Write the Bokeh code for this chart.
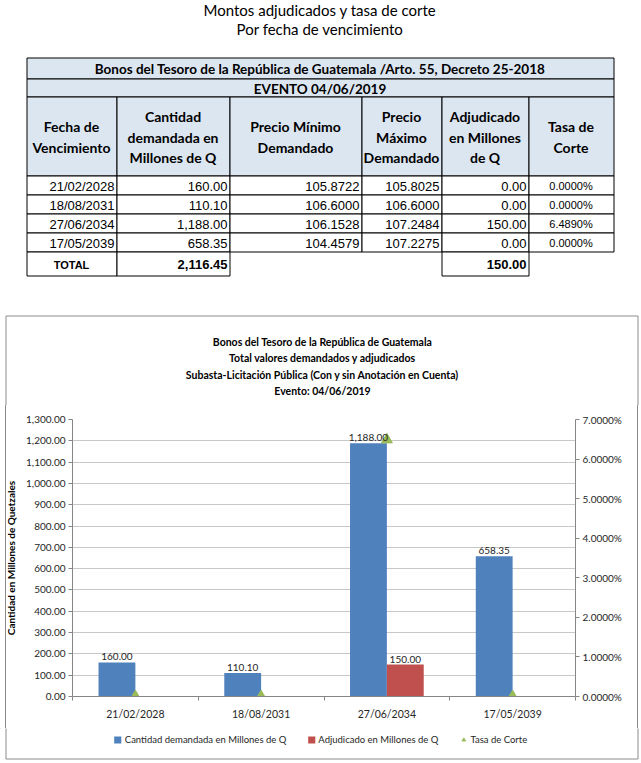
from bokeh.plotting import figure
from bokeh.models import (Range1d, LinearAxis, FixedTicker, NumeralTickFormatter,
                          Legend, LegendItem, ColumnDataSource, Grid)
from bokeh.layouts import column
from bokeh.transform import dodge
from bokeh.embed import file_html
from bokeh.resources import INLINE
from bokeh.core.properties import value

# ---------------- data ----------------
fechas = ["21/02/2028", "18/08/2031", "27/06/2034", "17/05/2039"]
cantidad = [160.00, 110.10, 1188.00, 658.35]
precio_min = [105.8722, 106.6000, 106.1528, 104.4579]
precio_max = [105.8025, 106.6000, 107.2484, 107.2275]
adjudicado = [0.00, 0.00, 150.00, 0.00]
tasa_pct = [0.0000, 0.0000, 6.4890, 0.0000]
total_cantidad = 2116.45
total_adjudicado = 150.00

page_title = ["Montos adjudicados y tasa de corte", "Por fecha de vencimiento"]
table_title = "Bonos del Tesoro de la República de Guatemala /Arto. 55, Decreto 25-2018"
event_label = "EVENTO 04/06/2019"
total_label = "TOTAL"
headers = [["Fecha de", "Vencimiento"],
           ["Cantidad", "demandada en", "Millones de Q"],
           ["Precio Mínimo", "Demandado"],
           ["Precio", "Máximo", "Demandado"],
           ["Adjudicado", "en Millones", "de Q"],
           ["Tasa de", "Corte"]]
chart_title = ["Bonos del Tesoro de la República de Guatemala",
               "Total valores demandados y adjudicados",
               "Subasta-Licitación Pública (Con y sin Anotación en Cuenta)",
               "Evento: 04/06/2019"]
y_label = "Cantidad en Millones de Quetzales"
series_names = ["Cantidad demandada en Millones de Q", "Adjudicado en Millones de Q", "Tasa de Corte"]
left_ticks = [0, 100, 200, 300, 400, 500, 600, 700, 800, 900, 1000, 1100, 1200, 1300]
right_ticks_pct = [0, 1, 2, 3, 4, 5, 6, 7]

# ---------------- styles / layout (page pixel coordinates) ----------------
W = 640
TOP_H = 405          # table + chart titles
CH_H = 323           # chart plot area with axes
LG_H = 34            # legend strip
HDR_FILL = "#dce6f1"
BLUE, RED, GREEN = "#4f81bd", "#c0504d", "#9bbb59"
BORDER = "#8c8c8c"
F_CAL = value("Lato")
F_ARI = value("Liberation Sans")

col_edges = [26, 116, 229, 361, 441, 528, 613]
row_edges = [57, 78, 96, 175, 194, 213, 232, 251, 275]
box_l, box_r, box_t, box_b = 5.5, 637.5, 315.5, 758.5
title_y = [341, 357, 374, 390]

def bare_fig(h, y0):
    f = figure(width=W, height=h, x_range=Range1d(0, W), y_range=Range1d(y0 + h, y0),
               output_backend="svg", toolbar_location=None, min_border=0,
               x_axis_type=None, y_axis_type=None)
    f.outline_line_color = None
    f.frame_align = False
    return f

# ---------------- top figure: titles + table + chart titles ----------------
tp = bare_fig(TOP_H, 0)
mid_x = (col_edges[0] + col_edges[-1]) / 2
tp.text(x=[mid_x, mid_x], y=[9, 28], text=page_title, text_font=F_CAL,
        text_font_size="15px", text_align="center", text_baseline="middle", text_color="#000000")

L, R, T, B, F = [], [], [], [], []
def cell(l, r, t, b, f):
    L.append(l + 0.5); R.append(r + 0.5); T.append(t + 0.5); B.append(b + 0.5); F.append(f)

cell(col_edges[0], col_edges[-1], row_edges[0], row_edges[1], HDR_FILL)
cell(col_edges[0], col_edges[-1], row_edges[1], row_edges[2], HDR_FILL)
for i in range(6):
    cell(col_edges[i], col_edges[i + 1], row_edges[2], row_edges[3], HDR_FILL)
for r in range(len(fechas)):
    for i in range(6):
        cell(col_edges[i], col_edges[i + 1], row_edges[3 + r], row_edges[4 + r], "#ffffff")
for i in (0, 1, 4):
    cell(col_edges[i], col_edges[i + 1], row_edges[7], row_edges[8], "#ffffff")
tp.quad(left=L, right=R, top=T, bottom=B, fill_color=F, line_color="#000000", line_width=1)

tp.text(x=[mid_x, mid_x], y=[(row_edges[0] + row_edges[1]) / 2 + 1, (row_edges[1] + row_edges[2]) / 2 + 1],
        text=[table_title, event_label], text_font=F_CAL, text_font_style="bold",
        text_font_size="13.5px", text_align="center", text_baseline="middle", text_color="#000000")

hx, hy, ht = [], [], []
hmid = (row_edges[2] + row_edges[3]) / 2 + 1
for i, lines in enumerate(headers):
    cxm = (col_edges[i] + col_edges[i + 1]) / 2
    n = len(lines)
    for k, s in enumerate(lines):
        hx.append(cxm); hy.append(hmid + (k - (n - 1) / 2) * 20.5); ht.append(s)
tp.text(x=hx, y=hy, text=ht, text_font=F_CAL, text_font_style="bold", text_font_size="14px",
        text_align="center", text_baseline="middle", text_color="#000000")

dx, dy, dt = [], [], []
for r in range(len(fechas)):
    yc = (row_edges[3 + r] + row_edges[4 + r]) / 2 + 1
    vals = [fechas[r], f"{cantidad[r]:,.2f}", f"{precio_min[r]:.4f}", f"{precio_max[r]:.4f}",
            f"{adjudicado[r]:,.2f}"]
    for i, s in enumerate(vals):
        dx.append(col_edges[i + 1] - 2); dy.append(yc); dt.append(s)
tp.text(x=dx, y=dy, text=dt, text_font=F_ARI, text_font_size="13px",
        text_align="right", text_baseline="middle", text_color="#000000")

tx = [(col_edges[5] + col_edges[6]) / 2] * len(fechas)
ty = [(row_edges[3 + r] + row_edges[4 + r]) / 2 + 1 for r in range(len(fechas))]
tp.text(x=tx, y=ty, text=[f"{t:.4f}%" for t in tasa_pct], text_font=F_ARI, text_font_size="11px",
        text_align="center", text_baseline="middle", text_color="#000000")

ytot = (row_edges[7] + row_edges[8]) / 2 + 1
tp.text(x=[(col_edges[0] + col_edges[1]) / 2], y=[ytot], text=[total_label], text_font=F_ARI,
        text_font_style="bold", text_font_size="11px", text_align="center", text_baseline="middle")
tp.text(x=[col_edges[2] - 2, col_edges[5] - 2], y=[ytot, ytot],
        text=[f"{total_cantidad:,.2f}", f"{total_adjudicado:,.2f}"], text_font=F_ARI,
        text_font_style="bold", text_font_size="13px", text_align="right", text_baseline="middle")

# chart box: top edge and upper sides
tp.multi_line(xs=[[box_l, box_r], [box_l, box_l], [box_r, box_r]],
              ys=[[box_t, box_t], [box_t, TOP_H + 1], [box_t, TOP_H + 1]],
              line_color=BORDER, line_width=1)
tp.text(x=[322] * len(chart_title), y=title_y, text=chart_title, text_font=F_CAL,
        text_font_style="bold", text_font_size="10.5px", text_align="center",
        text_baseline="middle", text_color="#000000")

# ---------------- chart figure ----------------
xs = list(range(1, len(fechas) + 1))
src = ColumnDataSource(dict(x=xs, cantidad=cantidad, adjudicado=adjudicado,
                            tasa=[t / 100 for t in tasa_pct],
                            lab_c=[f"{v:,.2f}" for v in cantidad]))
adj_idx = [i for i, v in enumerate(adjudicado) if v > 0]
src_adj = ColumnDataSource(dict(x=[xs[i] for i in adj_idx], adjudicado=[adjudicado[i] for i in adj_idx],
                                lab=[f"{adjudicado[i]:,.2f}" for i in adj_idx]))

cp = figure(width=W, height=CH_H, x_range=Range1d(0.5, len(fechas) + 0.5), y_range=Range1d(0, 1300),
            output_backend="svg", toolbar_location=None, x_axis_type=None, y_axis_type=None,
            min_border_left=72, min_border_right=65, min_border_top=14, min_border_bottom=32)
cp.outline_line_color = None
cp.frame_align = False
cp.border_fill_color = None
cp.background_fill_color = "#ffffff"
cp.styles = {"background": ("linear-gradient(to right, transparent 5px, %s 5px, %s 6px, "
                            "transparent 6px, transparent 637px, %s 637px, %s 638px, "
                            "transparent 638px)") % (BORDER, BORDER, BORDER, BORDER)}
cp.extra_y_ranges = {"tasa": Range1d(0, 0.07)}

AX_COL = "#868686"
yl = LinearAxis(ticker=FixedTicker(ticks=left_ticks), formatter=NumeralTickFormatter(format="0,0.00"),
                axis_label=y_label)
yr = LinearAxis(y_range_name="tasa", ticker=FixedTicker(ticks=[t / 100 for t in right_ticks_pct]),
                formatter=NumeralTickFormatter(format="0.0000%"))
xa = LinearAxis(ticker=FixedTicker(ticks=xs, minor_ticks=[x - 0.5 for x in xs] + [xs[-1] + 0.5]),
                major_label_overrides={x: f for x, f in zip(xs, fechas)})
for ax in (yl, yr, xa):
    ax.axis_line_color = AX_COL
    ax.major_tick_line_color = AX_COL
    ax.minor_tick_line_color = AX_COL
    ax.major_tick_in = 0
    ax.major_tick_out = 4
    ax.minor_tick_in = 0
    ax.minor_tick_out = 0
    ax.major_label_text_font = "Lato"
    ax.major_label_text_font_size = "10px"
    ax.major_label_text_color = "#262626"
    ax.major_label_standoff = 3
xa.major_tick_line_color = None
xa.minor_tick_out = 4
xa.major_label_standoff = 7
xa.major_label_text_font_size = "10.5px"
yl.axis_label_text_font = "Lato"
yl.axis_label_text_font_size = "10px"
yl.axis_label_text_font_style = "bold"
yl.axis_label_text_color = "#000000"
yl.axis_label_standoff = 6
cp.add_layout(yl, "left")
cp.add_layout(yr, "right")
cp.add_layout(xa, "below")
cp.add_layout(Grid(dimension=1, ticker=FixedTicker(ticks=left_ticks), grid_line_color="#c8c8c8"))

BW = 0.293
rb = cp.vbar(x=dodge("x", -BW / 2, range=cp.x_range), top="cantidad", width=BW, source=src,
             fill_color=BLUE, line_color=None)
rr = cp.vbar(x=dodge("x", BW / 2, range=cp.x_range), top="adjudicado", width=BW, source=src,
             fill_color=RED, line_color=None)
rt = cp.scatter(x="x", y="tasa", y_range_name="tasa", source=src, marker="triangle", size=11,
                fill_color=GREEN, line_color=GREEN)

cp.text(x=dodge("x", -BW / 2, range=cp.x_range), y="cantidad", text="lab_c", source=src,
        text_font=F_CAL, text_font_size="10px", text_align="center", text_baseline="bottom",
        text_color="#262626", y_offset=-2)
cp.text(x=dodge("x", BW / 2, range=cp.x_range), y="adjudicado", text="lab", source=src_adj,
        text_font=F_CAL, text_font_size="10px", text_align="center", text_baseline="bottom",
        text_color="#262626", y_offset=-2)

# ---------------- legend strip ----------------
y0 = TOP_H + CH_H
lp = bare_fig(LG_H, y0)
lp.multi_line(xs=[[box_l, box_r], [box_l, box_l], [box_r, box_r]],
              ys=[[box_b, box_b], [y0 - 1, box_b], [y0 - 1, box_b]],
              line_color=BORDER, line_width=1)
# off-canvas proxies that only carry the legend styles
proxy = ColumnDataSource(dict(x=[-1000], y=[-1000]))
gb = lp.vbar(x="x", top="y", width=1, source=proxy, fill_color=BLUE, line_color=None)
gr = lp.vbar(x="x", top="y", width=1, source=proxy, fill_color=RED, line_color=None)
gt = lp.scatter(x="x", y="y", source=proxy, marker="triangle", size=9, fill_color=GREEN, line_color=GREEN)
legend = Legend(items=[LegendItem(label=series_names[0], renderers=[gb]),
                       LegendItem(label=series_names[1], renderers=[gr]),
                       LegendItem(label=series_names[2], renderers=[gt])],
                orientation="horizontal", location="top_center", border_line_color=None,
                background_fill_alpha=0, glyph_width=9, glyph_height=9, label_height=14,
                label_text_font="Lato", label_text_font_size="9.5px", label_text_color="#262626",
                spacing=20, label_standoff=3, padding=2, margin=4)
lp.add_layout(legend, "center")

layout = column(tp, cp, lp, spacing=0)
open("out.html", "w").write(file_html(layout, INLINE))
